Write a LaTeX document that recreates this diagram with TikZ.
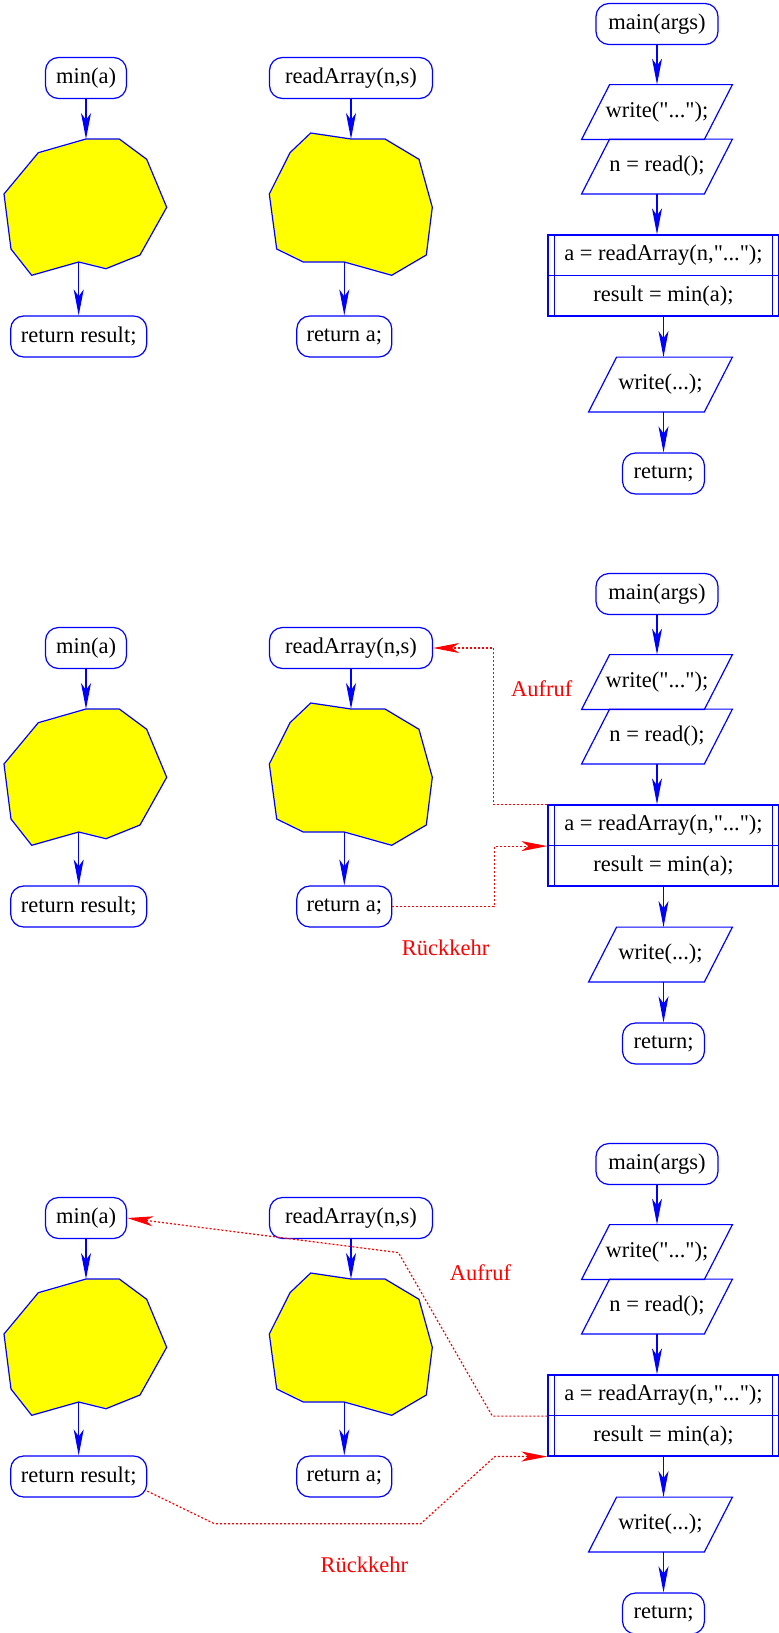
\documentclass[tikz,border=0pt]{standalone}
\usepackage{fontspec}
\setmainfont{Liberation Serif}[Ligatures=TeXOff]
\usetikzlibrary{arrows.meta}
\definecolor{blobyellow}{RGB}{255,255,0}
\definecolor{lineblue}{RGB}{0,0,255}
\definecolor{jumpred}{RGB}{255,0,0}

\begin{document}
\begin{tikzpicture}[x=0.5pt,y=-0.5pt,
    every node/.style={font=\fontsize{11.25}{13}\selectfont, inner sep=0pt},
    term/.style={draw=lineblue, line width=0.6pt, rounded corners=6.5pt, minimum height=20.5pt},
    io/.style={minimum width=75pt, minimum height=27pt},
    proc/.style={draw=lineblue, line width=0.6pt, minimum width=115.5pt, minimum height=20.25pt},
    edge/.style={lineblue, line width=0.6pt},
    blob/.style={draw=lineblue, fill=blobyellow, line width=0.6pt},
    flow/.style={lineblue, line width=0.6pt, -{Stealth[length=13pt,width=5pt,inset=3.5pt]}},
    jump/.style={jumpred, line width=0.6pt, dash pattern=on 1pt off 1pt, -{Stealth[length=13pt,width=5pt,inset=3.5pt]}},
    note/.style={text=jumpred}]
    \useasboundingbox (0,0) rectangle (779,1633);

    % three copies of the same program
    \foreach \dy/\p in {0/a,570/b,1140/c} {
    \begin{scope}[shift={(0,\dy)}]
        % min(a)
        \node[term, minimum width=40.5pt] (\p-mina) at (86,78) {min(a)};
        \draw[blob] (86,139) -- (119.3,139) -- (146.7,159.3) -- (166.7,207.3) -- (140,255) -- (106,268.7)
            -- (78.7,262) -- (31.7,275.3) -- (11,249) -- (4,194) -- (38.3,152.7) -- cycle;
        \coordinate (\p-blobain) at (86,139);
        \coordinate (\p-blobaout) at (78.7,262);
        \node[term, minimum width=68pt] (\p-retres) at (78.7,336.5) {return result;};

        % readArray(n,s)
        \node[term, minimum width=81.5pt] (\p-readarray) at (351,78) {readArray(n,s)};
        \draw[blob] (351,139) -- (385,139) -- (419,159.3) -- (432.3,207.3) -- (426.3,255) -- (391.7,275.3)
            -- (344.3,262) -- (303.3,262) -- (276.7,249) -- (269.3,194) -- (290,152.7) -- (310.7,133) -- cycle;
        \coordinate (\p-blobbin) at (351,139);
        \coordinate (\p-blobbout) at (344.3,262);
        \node[term, minimum width=47.5pt] (\p-reta) at (344.3,336.5) {return a;};

        % main(args)
        \node[term, minimum width=61pt] (\p-main) at (657,24) {main(args)};
        \node[io] (\p-write) at (657,112) {write("...");};
        \node[io] (\p-read) at (657,166.5) {n = read();};
        \node[proc] (\p-call) at (663.5,255.25) {a = readArray(n,"...");};
        \node[proc] (\p-res) at (663.5,295.75) {result = min(a);};
        \draw[edge] ([xshift=3.5pt]\p-call.north west) -- ([xshift=3.5pt]\p-res.south west);
        \draw[edge] ([xshift=-3.5pt]\p-call.north east) -- ([xshift=-3.5pt]\p-res.south east);
        \node[io, minimum width=71.5pt] (\p-out) at (660.5,384.5) {write(...);};
        \node[term, minimum width=41pt] (\p-ret) at (663.5,473.5) {return;};
        % parallelograms round the input/output nodes
        \foreach \n in {write,read,out}
            \draw[edge] ([xshift=14pt]\p-\n.north west) -- (\p-\n.north east)
                -- ([xshift=-14pt]\p-\n.south east) -- (\p-\n.south west) -- cycle;

        \draw[flow] (\p-mina) -- (\p-blobain);
        \draw[flow] (\p-blobaout) -- (\p-retres);
        \draw[flow] (\p-readarray) -- (\p-blobbin);
        \draw[flow] (\p-blobbout) -- (\p-reta);
        \draw[flow] (\p-main) -- (\p-write);
        \draw[flow] (\p-read.south) -- (\p-read.south |- \p-call.north);
        \draw[flow] (\p-res.south) -- (\p-res.south |- \p-out.north);
        \draw[flow] (\p-ret.north |- \p-out.south) -- (\p-ret);
    \end{scope}
    }

    % call and return of readArray
    \draw[jump] (b-call.north west) -- ++(-54,0) |- (b-readarray.east);
    \draw[jump] (b-reta.east) -- ++(102,0) |- (b-call.south west);
    \node[note] (b-aufruf) at (541.7,688.3) {Aufruf};
    \node[note] (b-rueck) at (445.7,947.3) {Rückkehr};

    % call and return of min
    \draw[jump] (c-call.south west) -- ++(-55,0) -- ++(-94,-163.5) -- (c-mina.east);
    \draw[jump] (c-retres.-12) -- ++(67,32.6) -- ++(206.4,0) -- ++(74.3,-67.3) -- (c-res.south west);
    \node[note] (c-aufruf) at (480.4,1272.3) {Aufruf};
    \node[note] (c-rueck) at (364.3,1565) {Rückkehr};
\end{tikzpicture}
\end{document}
